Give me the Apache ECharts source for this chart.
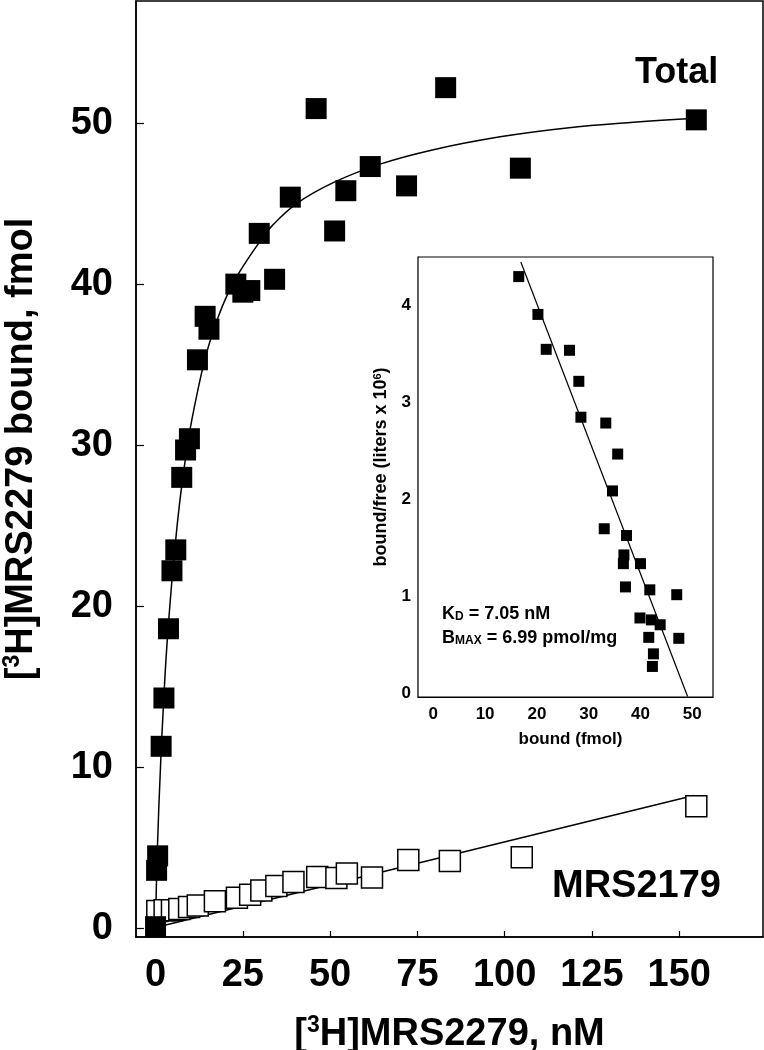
<!DOCTYPE html>
<html>
<head>
<meta charset="utf-8">
<script src="https://cdn.jsdelivr.net/npm/echarts@6/dist/echarts.min.js"></script>
<style>html,body{margin:0;padding:0;background:#fff}#c{width:764px;height:1050px}</style>
</head>
<body>
<div id="c"></div>
<script>
// ---- data ----
const mainXTicks = [0, 25, 50, 75, 100, 125, 150];
const mainYTicks = [0, 10, 20, 30, 40, 50];
const insetXTicks = [0, 10, 20, 30, 40, 50];
const insetYTicks = [0, 1, 2, 3, 4];

// Total binding, filled squares [nM, fmol]
const totalPoints = [
  [0.0, 0.1], [0.3, 3.6], [0.6, 4.5], [1.6, 11.3], [2.4, 14.3], [3.7, 18.6],
  [4.7, 22.2], [5.8, 23.5], [7.5, 28.0], [8.6, 29.7], [9.7, 30.4], [12.0, 35.3],
  [14.2, 38.0], [15.3, 37.2], [23.0, 40.0], [25.0, 39.5], [27.0, 39.6], [29.7, 43.15],
  [34.1, 40.3], [38.6, 45.4], [46.0, 50.9], [51.3, 43.3], [54.5, 45.8], [61.5, 47.3],
  [71.9, 46.1], [83.1, 52.2], [104.5, 47.2], [154.9, 50.2]
];
// fitted curve for total binding
const totalCurve = [
  [0, 0], [0.5, 4.8], [1.45, 10.2], [2.2, 13.6], [3.2, 17.4], [4.8, 21.9], [5.85, 24.3],
  [7.0, 26.6], [8.2, 28.6], [9.9, 31.0], [13.2, 34.5], [15.1, 36.1], [17.5, 37.7],
  [20.5, 39.3], [24.2, 40.8], [29.4, 42.5], [33.3, 43.6], [40.4, 45.0], [50.9, 46.3],
  [64.3, 47.45], [79.6, 48.35], [98.7, 49.15], [117.8, 49.7], [136.9, 50.05], [154.9, 50.3]
];
// MRS2179 (nonspecific), open squares
const mrsPoints = [
  [0.5, 1.08], [2.6, 1.12], [4.7, 1.12], [6.8, 1.2], [9.6, 1.33], [12.1, 1.41],
  [17.0, 1.68], [23.3, 1.9], [27.1, 2.09], [30.3, 2.34], [34.6, 2.63], [39.5, 2.88],
  [46.3, 3.19], [51.8, 3.13], [54.8, 3.41], [62.0, 3.15], [72.4, 4.24], [84.3, 4.18],
  [104.9, 4.41], [154.9, 7.58]
];
const mrsLine = [[0, 0.05], [154.2, 8.24]];

// Scatchard inset [bound fmol, bound/free]
const insetPoints = [
  [16.5, 4.30], [20.2, 3.91], [21.8, 3.55], [26.3, 3.54], [28.1, 3.22], [28.5, 2.85],
  [33.3, 2.79], [35.6, 2.47], [34.6, 2.09], [33.0, 1.70], [37.3, 1.63], [36.8, 1.43],
  [36.7, 1.34], [40.0, 1.34], [37.1, 1.10], [41.8, 1.07], [47.0, 1.02], [39.9, 0.78],
  [42.1, 0.76], [43.8, 0.71], [41.6, 0.58], [47.4, 0.57], [42.5, 0.41], [42.3, 0.28]
];
const insetLine = [[16.9, 4.45], [49.1, -0.03]];

// ---- chart ----
const FONT = 'Liberation Sans, Arial, sans-serif';
const chart = echarts.init(document.getElementById('c'), null, {renderer: 'canvas'});

const bigLabel = {fontFamily: FONT, fontSize: 38, fontWeight: 'bold', color: '#000'};
const smallLabel = {fontFamily: FONT, fontSize: 17, fontWeight: 'bold', color: '#000'};

chart.setOption({
  animation: false,
  backgroundColor: '#fff',
  grid: [
    {left: 136, top: 1, width: 627, height: 936, show: true, borderColor: '#000', borderWidth: 1.5,
     backgroundColor: 'transparent', containLabel: false, outerBoundsMode: 'none'},
    {left: 418, top: 257, width: 295, height: 440, show: true, borderColor: '#000', borderWidth: 1.2,
     backgroundColor: '#fff', z: 5, containLabel: false, outerBoundsMode: 'none'}
  ],
  xAxis: [
    {
      gridIndex: 0, type: 'value', min: -5.6, max: 174,
      axisLine: {onZero: false, lineStyle: {color: '#000', width: 1.5}},
      axisTick: {inside: true, length: 6, customValues: mainXTicks, lineStyle: {color: '#000', width: 1.2}},
      axisLabel: Object.assign({margin: 20, customValues: mainXTicks}, bigLabel),
      splitLine: {show: false},
      name: '{b|[}{sup|3}{b|H]MRS2279, nM}', nameLocation: 'middle', nameGap: 76,
      nameTextStyle: {fontFamily: FONT, fontSize: 38, fontWeight: 'bold', color: '#000',
        rich: {b: {fontFamily: FONT, fontSize: 38, fontWeight: 'bold', lineHeight: 44},
               sup: {fontFamily: FONT, fontSize: 23, fontWeight: 'bold', lineHeight: 44, padding: [0, 0, 18, 0]}}}
    },
    {
      gridIndex: 1, type: 'value', min: -2.95, max: 54,
      axisLine: {onZero: false, lineStyle: {color: '#000', width: 1.2}},
      axisTick: {inside: true, length: 5, customValues: insetXTicks, lineStyle: {color: '#000'}},
      axisLabel: Object.assign({margin: 9, customValues: insetXTicks}, smallLabel),
      splitLine: {show: false},
      name: 'bound (fmol)', nameLocation: 'middle', nameGap: 34,
      nameTextStyle: Object.assign({}, smallLabel, {padding: [0, 0, 0, 10]})
    }
  ],
  yAxis: [
    {
      gridIndex: 0, type: 'value', min: -0.54, max: 57.58,
      axisLine: {onZero: false, lineStyle: {color: '#000', width: 1.5}},
      axisTick: {inside: true, length: 8, customValues: mainYTicks, lineStyle: {color: '#000', width: 1.2}},
      axisLabel: Object.assign({margin: 23, customValues: mainYTicks}, bigLabel),
      splitLine: {show: false},
      name: '{b|[}{sup|3}{b|H]MRS2279 bound, fmol}', nameLocation: 'middle', nameGap: 92, nameRotate: 90,
      nameTextStyle: {fontFamily: FONT, fontSize: 38, fontWeight: 'bold', color: '#000', padding: [0, 0, 0, 40],
        rich: {b: {fontFamily: FONT, fontSize: 38, fontWeight: 'bold', lineHeight: 44},
               sup: {fontFamily: FONT, fontSize: 23, fontWeight: 'bold', lineHeight: 44, padding: [0, 0, 18, 0]}}}
    },
    {
      gridIndex: 1, type: 'value', min: -0.035, max: 4.502,
      axisLine: {onZero: false, lineStyle: {color: '#000', width: 1.2}},
      axisTick: {inside: true, length: 4, customValues: insetYTicks, lineStyle: {color: '#000'}},
      axisLabel: Object.assign({margin: 7, customValues: insetYTicks}, smallLabel),
      splitLine: {show: false},
      name: '{b|bound/free (liters x 10}{sup|6}{b|)}', nameLocation: 'middle', nameGap: 26, nameRotate: 90,
      nameTextStyle: Object.assign({}, smallLabel, {fontSize: 18, padding: [0, 0, 0, 20],
        rich: {b: {fontFamily: FONT, fontSize: 18, fontWeight: 'bold', lineHeight: 21},
               sup: {fontFamily: FONT, fontSize: 11, fontWeight: 'bold', lineHeight: 21, padding: [0, 0, 8, 0]}}})
    }
  ],
  series: [
    {type: 'line', xAxisIndex: 0, yAxisIndex: 0, data: totalCurve, showSymbol: false, smooth: 0.4,
     lineStyle: {color: '#000', width: 1.5}, z: 2, silent: true},
    {type: 'line', xAxisIndex: 0, yAxisIndex: 0, data: mrsLine, showSymbol: false,
     lineStyle: {color: '#000', width: 1.5}, z: 2, silent: true},
    {type: 'scatter', xAxisIndex: 0, yAxisIndex: 0, data: mrsPoints, symbol: 'rect', symbolSize: 21,
     itemStyle: {color: '#fff', borderColor: '#000', borderWidth: 1.5, opacity: 1}, z: 3},
    {type: 'scatter', xAxisIndex: 0, yAxisIndex: 0, data: totalPoints, symbol: 'rect', symbolSize: 21,
     itemStyle: {color: '#000', opacity: 1}, z: 4},
    {type: 'line', xAxisIndex: 1, yAxisIndex: 1, data: insetLine, showSymbol: false,
     lineStyle: {color: '#000', width: 1.2}, z: 6, silent: true},
    {type: 'scatter', xAxisIndex: 1, yAxisIndex: 1, data: insetPoints, symbol: 'rect', symbolSize: 11,
     itemStyle: {color: '#000', opacity: 1}, z: 7}
  ],
  graphic: [
    {type: 'text', x: 635, y: 73, z: 10, style: {text: 'Total', fill: '#000', font: 'bold 36px ' + FONT, textAlign: 'left', textVerticalAlign: 'middle'}},
    {type: 'text', x: 552, y: 887, z: 10, style: {text: 'MRS2179', fill: '#000', font: 'bold 38px ' + FONT, textAlign: 'left', textVerticalAlign: 'middle'}},
    {type: 'text', x: 442, y: 614, z: 10, style: {
      text: '{b|K}{s|D}{b| = 7.05 nM}', textAlign: 'left', textVerticalAlign: 'middle',
      rich: {b: {fontFamily: FONT, fontSize: 18, fontWeight: 'bold', fill: '#000', lineHeight: 22},
             s: {fontFamily: FONT, fontSize: 12, fontWeight: 'bold', fill: '#000', lineHeight: 22, padding: [6, 0, 0, 0]}}}},
    {type: 'text', x: 442, y: 638, z: 10, style: {
      text: '{b|B}{s|MAX}{b| = 6.99 pmol/mg}', textAlign: 'left', textVerticalAlign: 'middle',
      rich: {b: {fontFamily: FONT, fontSize: 18, fontWeight: 'bold', fill: '#000', lineHeight: 22},
             s: {fontFamily: FONT, fontSize: 12, fontWeight: 'bold', fill: '#000', lineHeight: 22, padding: [6, 0, 0, 0]}}}}
  ]
});
</script>
</body>
</html>
